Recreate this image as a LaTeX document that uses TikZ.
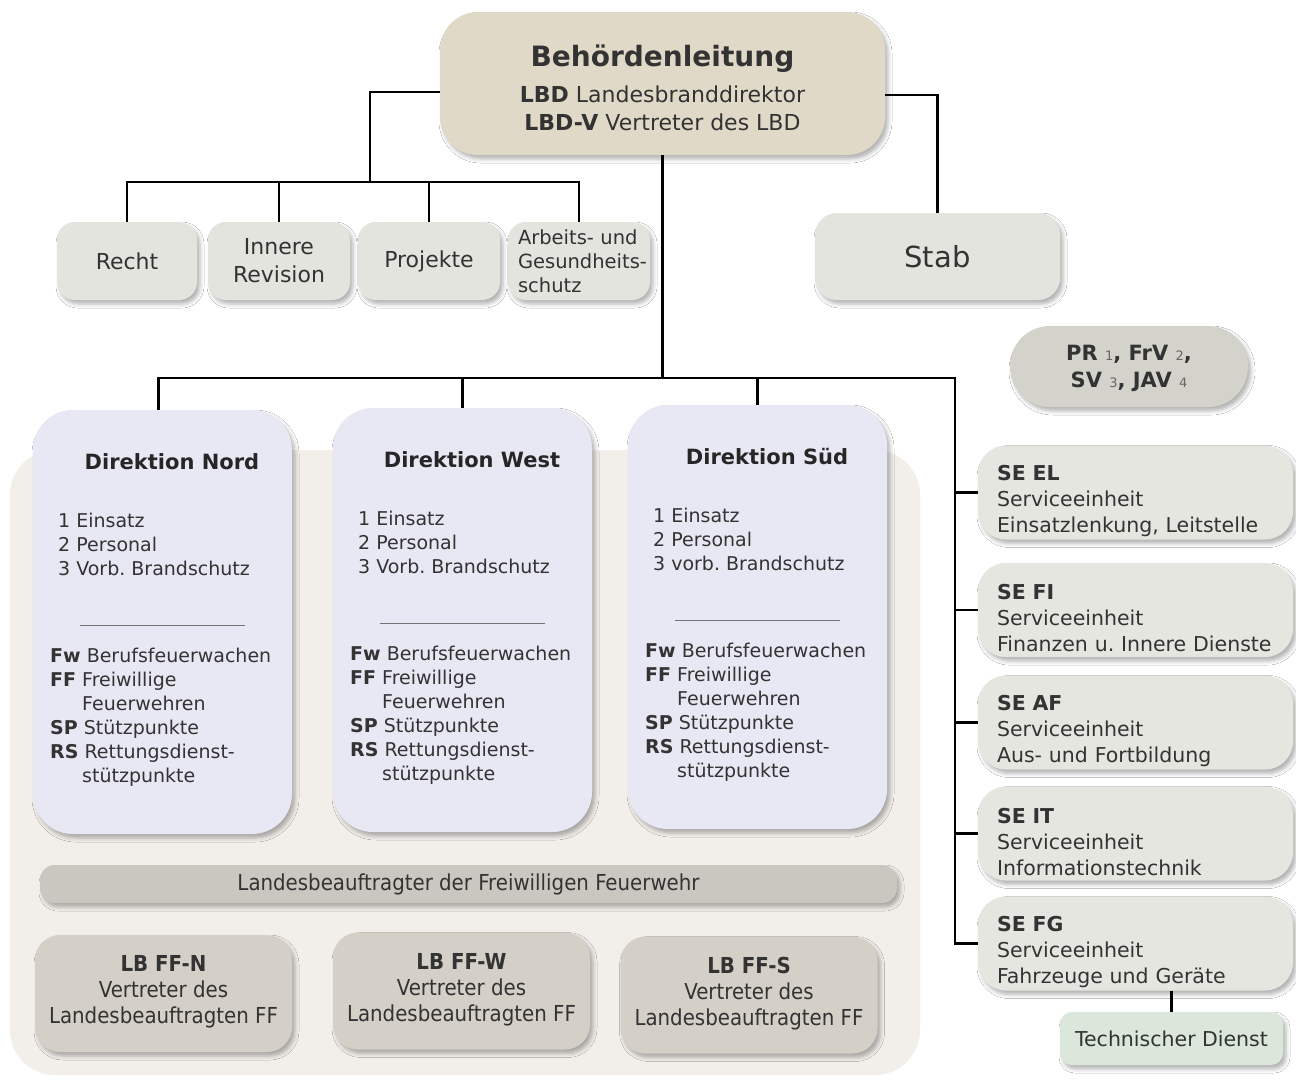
\documentclass[tikz,border=0pt]{standalone}
\usepackage{fontspec}
\setmainfont{DejaVu Sans}
\newfontfamily\condfont{DejaVu Sans Condensed}
\usetikzlibrary{shadows.blur}
\frenchspacing

\definecolor{leitung}{HTML}{E0D9C8}
\definecolor{stelle}{HTML}{E3E4DE}
\definecolor{vertretung}{HTML}{D3D3CB}
\definecolor{flaeche}{HTML}{F2EFEB}
\definecolor{direktion}{HTML}{E8E8F4}
\definecolor{balken}{HTML}{C9C7C0}
\definecolor{lbff}{HTML}{D4D0C7}
\definecolor{service}{HTML}{E6E6E0}
\definecolor{technik}{HTML}{DAE7DA}
\definecolor{schrift}{HTML}{333333}
\definecolor{ziffer}{HTML}{666666}

\newcommand\ziff[1]{{\mdseries\fontsize{13}{13}\selectfont\color{ziffer}#1}}
\newcommand\einzug{\phantom{\textbf{FF}}\ }
\newcommand\fsdir{\fontsize{19}{24}\selectfont}

\tikzset{
  einheit/.style={fill=#1, inner sep=0pt, align=center, text=schrift,
    blur shadow={shadow xshift=3pt, shadow yshift=-4pt, shadow blur radius=4pt, shadow opacity=30}},
  linie/.style={line width=2.2pt, black}
}

\begin{document}
\begin{tikzpicture}[x=1pt, y=-1pt]
\useasboundingbox (0,0) rectangle (1296,1080);
\fill[white] (0,0) rectangle (1296,1080);

% Flaeche hinter den Direktionen
\fill[flaeche, rounded corners=45pt] (10,450) rectangle (920,1075);

% Behoerdenleitung
\node[einheit=leitung, rounded corners=38pt, minimum width=445pt, minimum height=143pt,
  font=\fontsize{22}{28}\selectfont] (leitung) at (662.5,83.5)
  {{\fontsize{28}{34}\selectfont\rule{0pt}{30pt}\textbf{Behördenleitung}}\\[8pt]
   \textbf{LBD} Landesbranddirektor\\\textbf{LBD-V} Vertreter des LBD};

% Stabsstellen
\node[einheit=stelle, rounded corners=18pt, minimum width=140pt, minimum height=78pt,
  font=\fontsize{22}{28}\selectfont] (recht) at (127,261) {Recht};
\node[einheit=stelle, rounded corners=18pt, minimum width=142pt, minimum height=78pt,
  font=\fontsize{22}{28}\selectfont] (revision) at (279,261) {Innere\\Revision};
\node[einheit=stelle, rounded corners=18pt, minimum width=142pt, minimum height=78pt,
  font=\fontsize{22}{28}\selectfont] (projekte) at (429,261) {Projekte};
\node[einheit=stelle, rounded corners=18pt, minimum width=142pt, minimum height=78pt,
  text width=122pt, align=left, font=\fontsize{19.5}{24}\selectfont] (arbeit) at (579,261)
  {\mbox{Arbeits- und}\\\mbox{Gesundheits-}\\schutz};
\node[einheit=stelle, rounded corners=22pt, minimum width=245pt, minimum height=87pt,
  font=\fontsize{29}{34}\selectfont] (stab) at (937.5,256.5) {Stab};

% Vertretungen
\node[einheit=vertretung, rounded corners=40pt, minimum width=238pt, minimum height=81pt,
  font=\fontsize{21}{27}\selectfont\bfseries, text depth=0pt] (pr) at (1129,366.5)
  {PR \ziff{1}, FrV \ziff{2},\\SV \ziff{3}, JAV \ziff{4}};

% Direktionen
\foreach \n/\lx/\ty/\ttl/\vb in {nord/33/410/Nord/Vorb., west/333/408/West/Vorb., sued/628/405/Süd/vorb.}{
  \node[einheit=direktion, rounded corners=40pt, minimum width=259pt, minimum height=424pt]
    (\n) at (\lx+129.5,\ty+212) {};
  \node[font=\fontsize{21}{26}\selectfont\bfseries, text=black!85, anchor=base, inner sep=0pt]
    (\n-titel) at (\lx+139,\ty+59) {Direktion \ttl};
  \node[font=\fsdir, text=schrift, align=left, anchor=north west, inner sep=0pt]
    (\n-abt) at (\lx+25,\ty+103) {1 Einsatz\\2 Personal\\3 \vb{} Brandschutz};
  \draw[black!55, line width=1pt] (\lx+47,\ty+215) -- (\lx+212,\ty+215);
  \node[font=\fsdir, text=schrift, align=left, anchor=north west, inner sep=0pt]
    (\n-wachen) at (\lx+17,\ty+238)
    {\textbf{Fw} Berufsfeuerwachen\\\textbf{FF} Freiwillige\\\einzug Feuerwehren\\
     \textbf{SP} Stützpunkte\\\textbf{RS} Rettungsdienst-\\\einzug stützpunkte};
}

% Landesbeauftragter FF
\node[einheit=balken, rounded corners=15pt, minimum width=857pt, minimum height=38pt,
  font=\condfont\fontsize{22}{26}\selectfont] (lbf) at (468.5,884)
  {Landesbeauftragter der Freiwilligen Feuerwehr};
\foreach \n/\x/\y/\k in {lbn/163.5/993.5/N, lbw/461.5/991/W, lbs/749/995/S}
  \node[einheit=lbff, rounded corners=25pt, minimum width=257pt, minimum height=117pt,
    font=\condfont\fontsize{22}{26}\selectfont, text depth=8pt] (\n) at (\x,\y)
    {\textbf{LB FF-\k}\\Vertreter des\\Landesbeauftragten FF};

% Serviceeinheiten
\foreach \n/\y/\k/\lang in {seel/492.5/EL/{Einsatzlenkung, Leitstelle},
    sefi/610/FI/{Finanzen u. Innere Dienste}, seaf/722.5/AF/{Aus- und Fortbildung},
    seit/833.5/IT/{Informationstechnik}, sefg/943.5/FG/{Fahrzeuge und Geräte}}
  \node[einheit=service, rounded corners=28pt, minimum width=315pt, minimum height=94pt,
    text width=277pt, align=left, font=\fontsize{20.5}{26}\selectfont] (\n) at (1135.5,\y)
    {\rule{0pt}{32pt}\textbf{SE \k}\\Serviceeinheit\\\mbox{\lang}};
\node[einheit=technik, rounded corners=12pt, minimum width=223pt, minimum height=53pt,
  font=\fontsize{20.5}{24}\selectfont] (td) at (1171.5,1038.5) {Technischer Dienst};

% Verbindungen
\coordinate (links) at (370,182);
\coordinate (mitte) at (660,378);
\coordinate (rechts) at (955,378);
\draw[linie] ([yshift=-8.5pt]leitung.west) -| (links);
\draw[linie] (recht.north) |- (arbeit.north |- links) -- (arbeit.north);
\foreach \n in {revision,projekte} \draw[linie] (\n.north) -- (\n.north |- links);
\draw[linie] ([yshift=-11.5pt]leitung.east) -| (stab.north);
\draw[linie] (leitung.south) -- (leitung.south |- mitte);
\draw[linie] ([xshift=-4pt]nord.north) |- (rechts) |- (sefg.west);
\foreach \n in {west,sued} \draw[linie] (\n.north) -- (\n.north |- mitte);
\foreach \n in {seel,sefi,seaf,seit} \draw[linie] (\n.west) -- (\n.west -| rechts);
\draw[linie] (td.north) -- (td.north |- sefg.south);

\end{tikzpicture}
\end{document}
